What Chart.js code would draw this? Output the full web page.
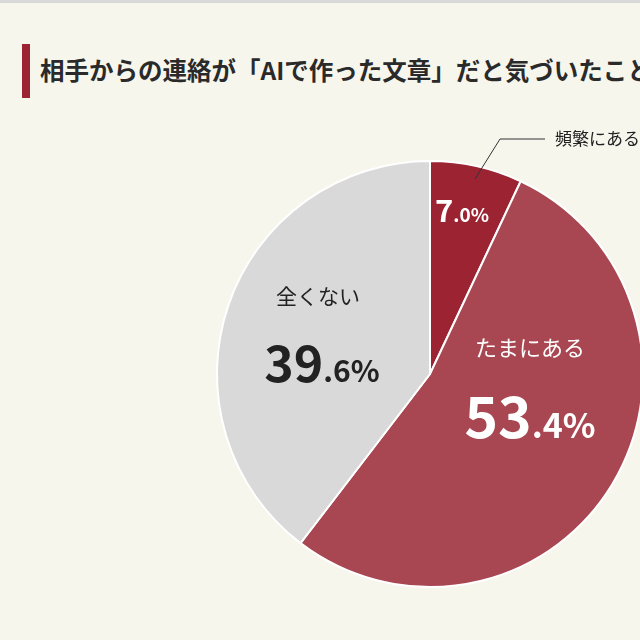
<!DOCTYPE html>
<html><head><meta charset="utf-8">
<script src="https://cdn.jsdelivr.net/npm/chart.js@4"></script>
<style>
html,body{margin:0;padding:0;width:640px;height:640px;overflow:hidden;background:#f7f6ed;font-family:"Noto Sans CJK JP",sans-serif;}
#top{position:absolute;left:0;top:0;width:640px;height:3px;background:#d8d8d8;}
#bar{position:absolute;left:22px;top:44px;width:8px;height:54px;background:#9c2432;}
#title{position:absolute;left:40px;top:52px;white-space:nowrap;font-size:24.5px;font-weight:bold;color:#2a2a2a;}
#wrap{position:absolute;left:0;top:0;width:860px;height:640px;}
</style></head><body>
<div id="top"></div><div id="bar"></div>
<div id="title">相手からの連絡が「AIで作った文章」だと気づいたことはありますか</div>
<div id="wrap"><canvas id="c"></canvas></div>
<script>
const labels = ['頻繁にある', 'たまにある', '全くない'];
const values = [7.0, 53.4, 39.6];
const colors = ['#9c2432', '#a84651', '#d9d9d9'];

// Text labels drawn at offsets from the pie centre
const labelPlugin = {
    id: 'labels',
    afterDraw(chart) {
        const ctx = chart.ctx;
        const arcs = chart.getDatasetMeta(0).data;
        const cx = arcs[0].x, cy = arcs[0].y;
        ctx.save();
        ctx.textBaseline = 'alphabetic';
        function pct(v, x, y, big, small, color) {
            const s = v.toFixed(1).split('.');
            ctx.fillStyle = color;
            ctx.font = 'bold ' + big + 'px "Noto Sans CJK JP"';
            const w1 = ctx.measureText(s[0]).width;
            ctx.font = 'bold ' + small + 'px "Noto Sans CJK JP"';
            const w2 = ctx.measureText('.' + s[1] + '%').width;
            const x0 = x - (w1 + w2) / 2;
            ctx.textAlign = 'left';
            ctx.font = 'bold ' + big + 'px "Noto Sans CJK JP"';
            ctx.fillText(s[0], x0, y);
            ctx.font = 'bold ' + small + 'px "Noto Sans CJK JP"';
            ctx.fillText('.' + s[1] + '%', x0 + w1, y);
        }
        ctx.textAlign = 'center';
        ctx.fillStyle = '#222';
        ctx.font = '21px "Noto Sans CJK JP"';
        ctx.fillText(labels[2], cx - 112, cy - 70);
        pct(values[2], cx - 108, cy + 8, 50, 30, '#222');
        ctx.fillStyle = '#fff';
        ctx.textAlign = 'center';
        ctx.font = '22px "Noto Sans CJK JP"';
        ctx.fillText(labels[1], cx + 100, cy - 18);
        pct(values[1], cx + 100, cy + 64, 57, 34, '#fff');
        pct(values[0], cx + 32, cy - 152, 31, 19, '#fff');
        // leader line + 頻繁にある
        ctx.strokeStyle = '#333';
        ctx.lineWidth = 1;
        ctx.beginPath();
        ctx.moveTo(cx + 45, cy - 195);
        ctx.lineTo(cx + 70, cy - 235);
        ctx.lineTo(cx + 115, cy - 235);
        ctx.stroke();
        ctx.fillStyle = '#222';
        ctx.textAlign = 'left';
        ctx.textBaseline = 'middle';
        ctx.font = '17px "Noto Sans CJK JP"';
        ctx.fillText(labels[0], cx + 125, cy - 235);
        ctx.restore();
    }
};

new Chart(document.getElementById('c'), {
    type: 'pie',
    data: {
        labels: labels,
        datasets: [{
            data: values,
            backgroundColor: colors,
            borderColor: '#ffffff',
            borderWidth: 2,
        }],
    },
    options: {
        responsive: true,
        maintainAspectRatio: false,
        animation: false,
        layout: { padding: { top: 160, bottom: 52 } },
        plugins: { legend: { display: false }, tooltip: { enabled: false } },
    },
    plugins: [labelPlugin],
});
</script>
</body></html>
